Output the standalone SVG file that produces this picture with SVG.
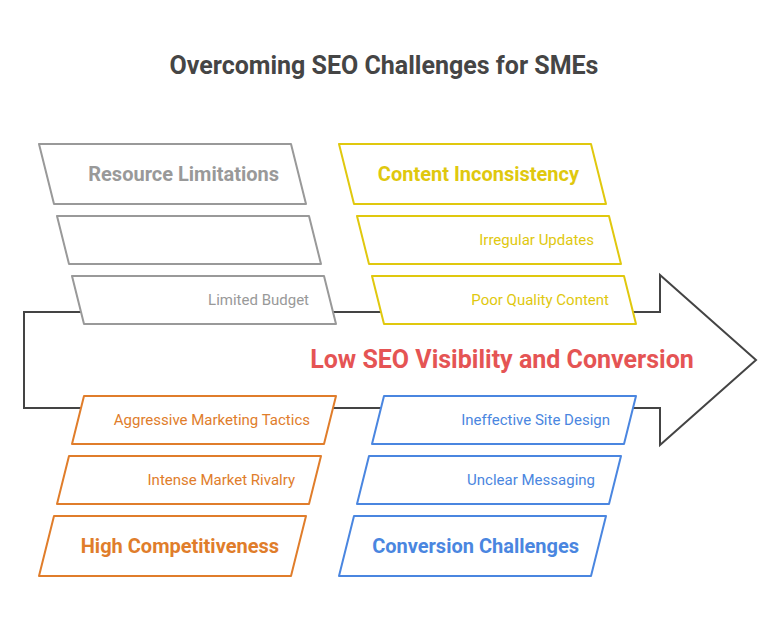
<svg xmlns="http://www.w3.org/2000/svg" width="780" height="624" viewBox="0 0 780 624">
<style>
text{font-family:Roboto,"Liberation Sans",sans-serif}
.title{font-size:25px;font-weight:700;fill:#454545;text-anchor:middle}
.main{font-size:25px;font-weight:700;fill:#E55454;text-anchor:middle}
.big{font-size:20px;font-weight:700;text-anchor:end}
.sm{font-size:15px;text-anchor:end}
.box{fill:#fff;stroke-width:2;stroke-linejoin:round}
.gray .box{stroke:#999}.gray text{fill:#999}
.yel .box{stroke:#E0C80E}.yel text{fill:#E0C80E}
.ora .box{stroke:#E07D2B}.ora text{fill:#E07D2B}
.blu .box{stroke:#4A86E0}.blu text{fill:#4A86E0}
</style>
<rect width="780" height="624" fill="#fff"/>
<text class="title" x="384" y="74">Overcoming SEO Challenges for SMEs</text>
<g id="connectors">
<path id="spine" d="M24,312 L660,312 L660,275 L756,360 L660,445 L660,408 L24,408 Z" fill="#fff" stroke="#444" stroke-width="2" stroke-linejoin="miter"/>
</g>
<g id="problem"><text class="main" x="502" y="368">Low SEO Visibility and Conversion</text></g>
<g id="resource" class="gray">
<g id="resource-title"><path class="box" d="M39,144 L291,144 L306,204 L54,204 Z"/><text class="big" x="279" y="181">Resource Limitations</text></g>
<g id="resource-empty"><path class="box" d="M57,216 L309,216 L321,264 L69,264 Z"/></g>
<g id="limited-budget"><path class="box" d="M72,276 L324,276 L336,324 L84,324 Z"/><text class="sm" x="309" y="305">Limited Budget</text></g>
</g>
<g id="content" class="yel">
<g id="content-title"><path class="box" d="M339,144 L591,144 L606,204 L354,204 Z"/><text class="big" x="579" y="181">Content Inconsistency</text></g>
<g id="irregular-updates"><path class="box" d="M357,216 L609,216 L621,264 L369,264 Z"/><text class="sm" x="594" y="245">Irregular Updates</text></g>
<g id="poor-quality"><path class="box" d="M372,276 L624,276 L636,324 L384,324 Z"/><text class="sm" x="609" y="305">Poor Quality Content</text></g>
</g>
<g id="competition" class="ora">
<g id="aggressive-marketing"><path class="box" d="M84,396 L336,396 L324,444 L72,444 Z"/><text class="sm" x="310" y="425">Aggressive Marketing Tactics</text></g>
<g id="market-rivalry"><path class="box" d="M69,456 L321,456 L309,504 L57,504 Z"/><text class="sm" x="295" y="485">Intense Market Rivalry</text></g>
<g id="competition-title"><path class="box" d="M54,516 L306,516 L291,576 L39,576 Z"/><text class="big" x="279" y="553">High Competitiveness</text></g>
</g>
<g id="conversion" class="blu">
<g id="site-design"><path class="box" d="M384,396 L636,396 L624,444 L372,444 Z"/><text class="sm" x="610" y="425">Ineffective Site Design</text></g>
<g id="unclear-messaging"><path class="box" d="M369,456 L621,456 L609,504 L357,504 Z"/><text class="sm" x="595" y="485">Unclear Messaging</text></g>
<g id="conversion-title"><path class="box" d="M354,516 L606,516 L591,576 L339,576 Z"/><text class="big" x="579" y="553">Conversion Challenges</text></g>
</g>
</svg>
